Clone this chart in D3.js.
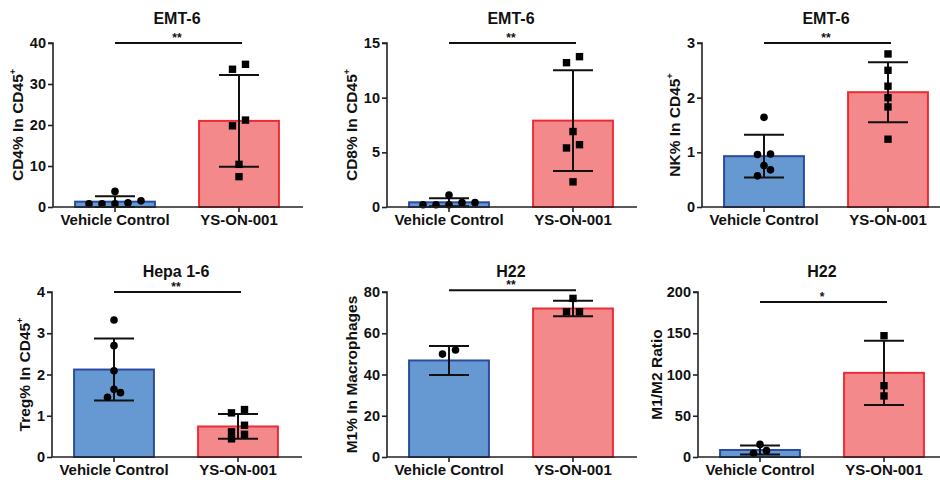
<!DOCTYPE html>
<html>
<head>
<meta charset="utf-8">
<script src="https://cdn.jsdelivr.net/npm/d3@7"></script>
<style>
  body { margin: 0; background: #fff; }
  text { font-family: "Liberation Sans", Arial, sans-serif; font-weight: bold; fill: #111; }
</style>
</head>
<body>
<script>
// groups on the x axis
var groups = ["Vehicle Control", "YS-ON-001"];

// one entry per panel, read left to right, top to bottom
var titles = ["EMT-6", "EMT-6", "EMT-6", "Hepa 1-6", "H22", "H22"];
var yLabels = ["CD4% In CD45", "CD8% In CD45", "NK% In CD45", "Treg% In CD45", "M1% In Macrophages", "M1/M2 Ratio"];
var yLabelPlus = [true, true, true, true, false, false];
var yMax = [40, 15, 3, 4, 80, 200];
var yStep = [10, 5, 1, 1, 20, 50];
var sigText = ["**", "**", "**", "**", "**", "*"];
var sigAt = [40, 15, 3, 4, 80.8, 188];

// bar means and SD [vehicle, drug]
var means = [[1.3, 21], [0.43, 7.9], [0.93, 2.1], [2.12, 0.74], [46.8, 72], [8.5, 102]];
var sds = [[1.3, 11.2], [0.37, 4.6], [0.39, 0.55], [0.75, 0.3], [7, 3.8], [5.5, 39]];

// individual animals
var vehiclePts = [
  [0.8, 1.5, 3.8, 0.8, 1.0, 0.8],
  [0.2, 0.4, 1.1, 0.2, 0.4, 0.2],
  [1.64, 0.96, 0.97, 0.76, 0.68, 0.57],
  [3.32, 2.7, 2.09, 1.64, 1.56, 1.45],
  [51.9, 49.9],
  [15.3, 7.7, 4.4]
];
var drugPts = [
  [34.8, 33.6, 19.8, 21.2, 10.4, 7.4],
  [13.2, 13.75, 6.9, 5.7, 5.4, 2.3],
  [2.8, 2.5, 2.21, 2.0, 1.83, 1.24],
  [1.07, 1.15, 0.77, 0.61, 0.55, 0.44],
  [76.9, 70.4, 70.4],
  [147, 86.4, 74]
];

var width = 940, height = 482;
var fills = ["#6699d1", "#f4898c"];
var strokes = ["#2b4ba0", "#ec2c35"];

var svg = d3.select("body").append("svg")
    .attr("width", width)
    .attr("height", height);

// panel frames: axis origin x, vertical range, title baseline
var colX = [[53, 387, 702], [52, 387, 698]];
var rowY = [[43, 207], [292, 457]];
var titleY = [24, 276.5];
var axisLen = 250;

for (var p = 0; p < 6; p++){
    var r = Math.floor(p / 3);
    drawPanel(p, colX[r][p % 3], rowY[r], titleY[r]);
}

//spread points that sit at nearly the same height, GraphPad style
function dodge(vals, y, cx){
    var sorted = vals.slice().sort(function(a, b){ return a - b; });
    var out = [];
    var i = 0;
    while (i < sorted.length){
        var start = y(sorted[i]);
        var cluster = [sorted[i]];
        var j = i + 1;
        while (j < sorted.length && Math.abs(start - y(sorted[j])) < 7){
            cluster.push(sorted[j]);
            j++;
        }
        cluster.forEach(function(v, k){
            out.push({v: v, x: cx + (k - (cluster.length - 1) / 2) * 13});
        });
        i = j;
    }
    return out;
}

function styleText(sel, size){
    sel.attr("font-size", size)
        .style("font-family", "Liberation Sans, Arial, sans-serif")
        .style("font-weight", "bold")
        .attr("fill", "#111");
}

function drawPanel(p, ax, yr, ty){
    var g = svg.append("g");

    var x = d3.scaleBand()
        .domain(groups)
        .range([ax, ax + 248])
        .paddingInner(0.34)
        .paddingOuter(0.17);
    var y = d3.scaleLinear()
        .domain([0, yMax[p]])
        .range([yr[1], yr[0]]);

    //bars
    g.selectAll(".bar")
        .data(groups)
        .enter()
        .append("rect")
        .attr("x", function(d){ return x(d) + 1; })
        .attr("width", x.bandwidth() - 2)
        .attr("y", function(d, i){ return y(means[p][i]); })
        .attr("height", function(d, i){ return y(0) - y(means[p][i]); })
        .attr("fill", function(d, i){ return fills[i]; })
        .attr("stroke", function(d, i){ return strokes[i]; })
        .attr("stroke-width", 2);

    //error bars (mean +/- SD)
    groups.forEach(function(d, i){
        var cx = x(d) + x.bandwidth() / 2;
        var hi = y(means[p][i] + sds[p][i]);
        var lo = y(Math.max(0, means[p][i] - sds[p][i]));
        var eb = g.append("g")
            .attr("stroke", "#111")
            .attr("stroke-width", 2);
        eb.append("line").attr("x1", cx).attr("x2", cx).attr("y1", hi).attr("y2", lo);
        eb.append("line").attr("x1", cx - 20).attr("x2", cx + 20).attr("y1", hi).attr("y2", hi);
        eb.append("line").attr("x1", cx - 20).attr("x2", cx + 20).attr("y1", lo).attr("y2", lo);
    });

    //points
    var vc = x(groups[0]) + x.bandwidth() / 2;
    var dc = x(groups[1]) + x.bandwidth() / 2;
    g.selectAll(".dot")
        .data(dodge(vehiclePts[p], y, vc))
        .enter()
        .append("circle")
        .attr("cx", function(d){ return d.x; })
        .attr("cy", function(d){ return y(d.v); })
        .attr("r", 3.8)
        .attr("fill", "#000");
    g.selectAll(".sq")
        .data(dodge(drugPts[p], y, dc))
        .enter()
        .append("rect")
        .attr("x", function(d){ return d.x - 3.7; })
        .attr("y", function(d){ return y(d.v) - 3.7; })
        .attr("width", 7.4)
        .attr("height", 7.4)
        .attr("fill", "#000");

    //axes
    var yAxis = d3.axisLeft(y)
        .tickValues(d3.range(0, yMax[p] + 0.001, yStep[p]))
        .tickFormat(d3.format("d"))
        .tickSize(5)
        .tickPadding(2);
    var ya = g.append("g")
        .attr("transform", "translate(" + ax + ",0)")
        .call(yAxis);
    ya.select(".domain").attr("stroke", "#222").attr("stroke-width", 1.6).attr("d", "M-5," + y(yMax[p]) + "H0V" + y(0));
    ya.selectAll(".tick line").attr("stroke", "#222").attr("stroke-width", 1.6);
    styleText(ya.selectAll(".tick text"), 14.5);

    var xAxis = d3.axisBottom(x)
        .tickSize(5)
        .tickPadding(2);
    var xa = g.append("g")
        .attr("transform", "translate(0," + y(0) + ")")
        .call(xAxis);
    xa.select(".domain").attr("stroke", "#222").attr("stroke-width", 1.6).attr("d", "M" + ax + ",0H" + (ax + axisLen));
    xa.selectAll(".tick line").attr("stroke", "#222").attr("stroke-width", 1.6);
    styleText(xa.selectAll(".tick text"), 15);

    //y title placed clear of the tick labels
    var tw = d3.max(ya.selectAll(".tick text").nodes(), function(n){ return n.getBBox().width; });
    var lx = ax - Math.min(tw + 19, 41);
    var yc = (y(0) + y(yMax[p])) / 2;
    var lab = g.append("text")
        .attr("transform", "translate(" + lx + "," + yc + ") rotate(-90)")
        .attr("text-anchor", "middle")
        .attr("dy", "0.35em")
        .attr("font-size", 15.5)
        .text(yLabels[p]);
    if (yLabelPlus[p]){
        lab.append("tspan").attr("font-size", 9).attr("dy", "-0.8em").text("+");
    }

    //title
    var mid = (vc + dc) / 2;
    g.append("text")
        .attr("x", mid)
        .attr("y", ty)
        .attr("text-anchor", "middle")
        .attr("font-size", 16)
        .text(titles[p]);

    //significance bar
    var sy = y(sigAt[p]);
    g.append("line")
        .attr("x1", vc).attr("x2", dc + 3)
        .attr("y1", sy).attr("y2", sy)
        .attr("stroke", "#111")
        .attr("stroke-width", 2);
    g.append("text")
        .attr("x", mid)
        .attr("y", sy - 1)
        .attr("text-anchor", "middle")
        .attr("font-size", 12)
        .text(sigText[p]);
}
</script>
</body>
</html>
